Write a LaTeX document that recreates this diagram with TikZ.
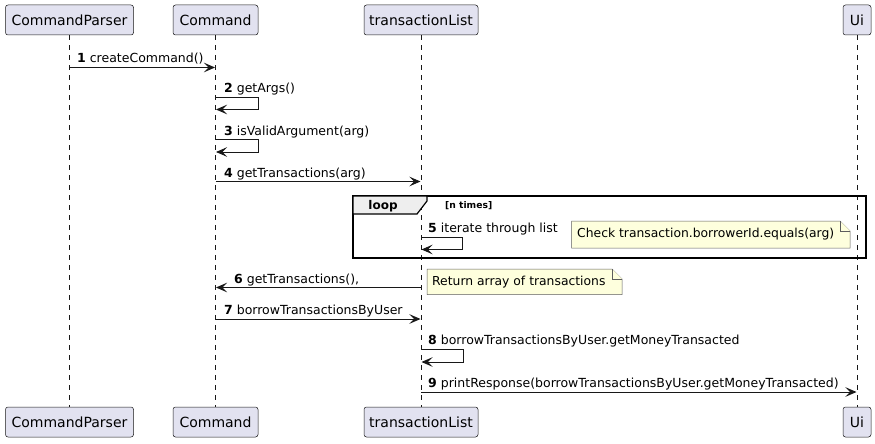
\documentclass[tikz,border=0pt]{standalone}
\usepackage{fontspec}
\setmainfont{DejaVu Sans}
\usetikzlibrary{arrows.meta}
\definecolor{partfill}{HTML}{E2E2F0}
\definecolor{linecol}{HTML}{181818}
\definecolor{notefill}{HTML}{FEFFDD}
\definecolor{loopfill}{HTML}{EEEEEE}
\tikzset{
  part/.style={draw=linecol, fill=partfill, rounded corners=2.5pt, minimum height=30pt, inner sep=0pt, line width=0.5pt, font=\fontsize{14}{16}\selectfont},
  lifeline/.style={draw=linecol, line width=0.5pt, dash pattern=on 5pt off 5pt},
  msg/.style={draw=linecol, line width=1pt, -{Stealth[length=11pt,width=9.5pt,inset=4.5pt]}},
  lbl/.style={anchor=base west, inner sep=0pt, font=\fontsize{12.5}{14}\selectfont},
  noteshape/.style={draw=linecol!70, fill=notefill, line width=0.5pt},
  notetext/.style={anchor=west, inner sep=0pt, font=\fontsize{12.35}{15}\selectfont},
  loopframe/.style={draw=black, line width=1.5pt},
  looptab/.style={draw=black, fill=loopfill, line width=1.2pt},
}
\begin{document}
\begin{tikzpicture}[x=1pt,y=-1pt]
\useasboundingbox (0,0) rectangle (875,444);
% participants
\node[part, minimum width=128pt] (cp)  at (69.5,20) {CommandParser};
\node[part, minimum width=85pt]  (cm)  at (215.5,20) {Command};
\node[part, minimum width=114pt] (tl)  at (421,20) {transactionList};
\node[part, minimum width=28pt]  (ui)  at (857,20) {Ui};
\node[part, minimum width=128pt] (cpb) at (69.5,422) {CommandParser};
\node[part, minimum width=85pt]  (cmb) at (215.5,422) {Command};
\node[part, minimum width=114pt] (tlb) at (421,422) {transactionList};
\node[part, minimum width=28pt]  (uib) at (857,422) {Ui};
% lifelines
\draw[lifeline] (cp.south) -- (cpb.north);
\draw[lifeline] (cm.south) -- (cmb.north);
\draw[lifeline] (tl.south) -- (tlb.north);
\draw[lifeline] (ui.south) -- (uib.north);
% loop frame
\draw[loopframe] (353,196) rectangle (866,258);
\draw[looptab] (353,196) -- (427,196) -- (427,201) -- (417,214) -- (353,214) -- cycle;
\node[font=\bfseries\fontsize{12}{14}\selectfont, inner sep=0pt, anchor=base] (looplbl) at (383,209.5) {loop};
\node[font=\bfseries\fontsize{9.2}{11}\selectfont, anchor=base west, inner sep=0pt] (loopcond) at (445,208.5) {[n times]};
% coordinates
\coordinate (a1s) at (69.5,67.5);  \coordinate (a1e) at (215,67.5);
\coordinate (a2s) at (215.5,97);   \coordinate (a2e) at (216,109.5);
\coordinate (a3s) at (215.5,139.5);\coordinate (a3e) at (216,152);
\coordinate (a4s) at (215.5,181.5);\coordinate (a4e) at (420.5,181.5);
\coordinate (a5s) at (421,237);    \coordinate (a5e) at (421.5,249.5);
\coordinate (a6s) at (421,287.5);  \coordinate (a6e) at (216,287.5);
\coordinate (a7s) at (215.5,319);  \coordinate (a7e) at (420.5,319);
\coordinate (a8s) at (421,349);    \coordinate (a8e) at (421.5,362);
\coordinate (a9s) at (421,392);    \coordinate (a9e) at (856.5,392);
% messages
\draw[msg] (a1s) -- (a1e);
\node[lbl] (l1) at (77,63) {\textbf{1} createCommand()};
\draw[msg] (a2s) -- ++(43,0) |- (a2e);
\node[lbl] (l2) at (224,92.5) {\textbf{2} getArgs()};
\draw[msg] (a3s) -- ++(43,0) |- (a3e);
\node[lbl] (l3) at (224,135) {\textbf{3} isValidArgument(arg)};
\draw[msg] (a4s) -- (a4e);
\node[lbl] (l4) at (224,177) {\textbf{4} getTransactions(arg)};
\draw[msg] (a5s) -- ++(41,0) |- (a5e);
\node[lbl] (l5) at (428,232.5) {\textbf{5} iterate through list};
\draw[msg] (a6s) -- (a6e);
\node[lbl] (l6) at (234,283) {\textbf{6} getTransactions(),};
\draw[msg] (a7s) -- (a7e);
\node[lbl] (l7) at (224,314.5) {\textbf{7} borrowTransactionsByUser};
\draw[msg] (a8s) -- ++(42,0) |- (a8e);
\node[lbl] (l8) at (428,344.5) {\textbf{8} borrowTransactionsByUser.getMoneyTransacted};
\draw[msg] (a9s) -- (a9e);
\node[lbl] (l9) at (428,387.5) {\textbf{9} printResponse(borrowTransactionsByUser.getMoneyTransacted)};
% notes
\draw[noteshape] (571.5,221) -- (840,221) -- (850,231) -- (850,248) -- (571.5,248) -- cycle;
\draw[noteshape] (840,221) -- (840,231) -- (850,231);
\node[notetext] (n1) at (577,234.5) {Check transaction.borrowerId.equals(arg)};
\draw[noteshape] (427,269) -- (612,269) -- (622,279) -- (622,294.5) -- (427,294.5) -- cycle;
\draw[noteshape] (612,269) -- (612,279) -- (622,279);
\node[notetext] (n2) at (432,281.8) {Return array of transactions};
\end{tikzpicture}
\end{document}
